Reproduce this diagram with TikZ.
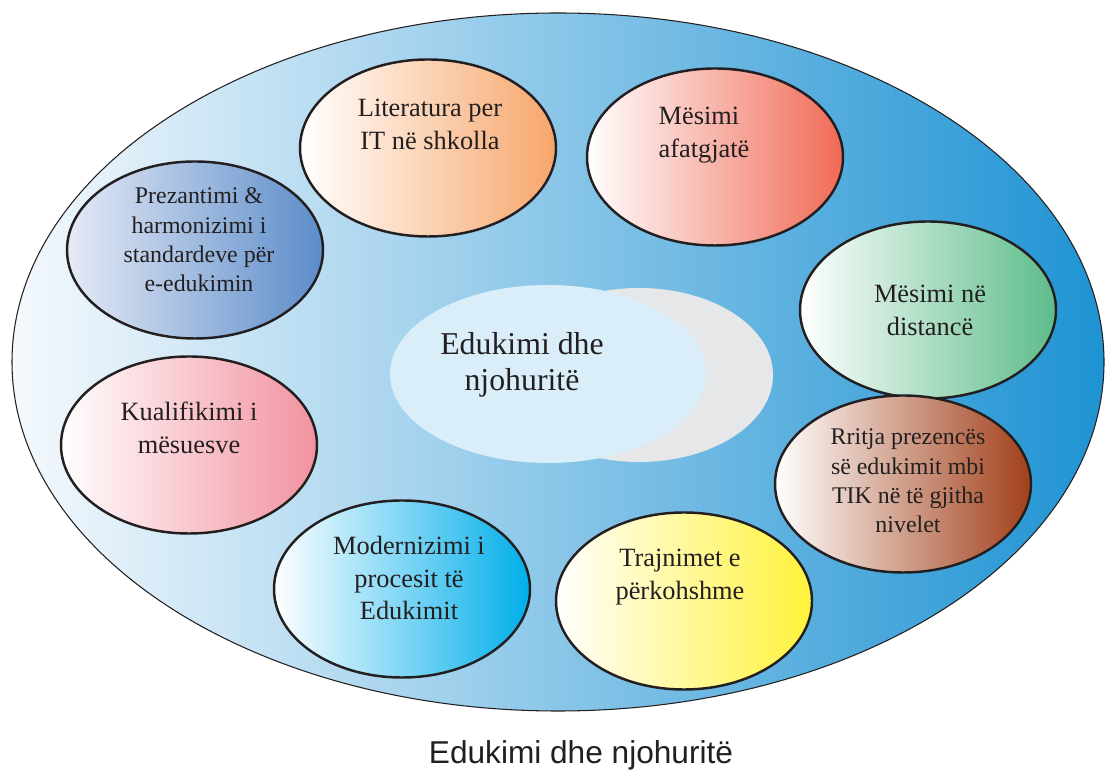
\documentclass[tikz,border=0pt]{standalone}
\usepackage{fontspec}
\setmainfont{Liberation Serif}
\setsansfont{Liberation Sans}
\usetikzlibrary{shapes.geometric}

\definecolor{outerL}{HTML}{F5F9FD}
\definecolor{outerM}{HTML}{A9CBEA}
\definecolor{outerR}{HTML}{1E93D3}
\definecolor{coreBlue}{HTML}{DAEEFA}
\definecolor{coreGray}{HTML}{E6E7E8}
\definecolor{inkDark}{HTML}{231F20}
\definecolor{litOrange}{HTML}{F7A66B}
\definecolor{afatSalmon}{HTML}{F06A56}
\definecolor{prezLight}{HTML}{E6EAF6}
\definecolor{prezBlue}{HTML}{5B8CC9}
\definecolor{distGreen}{HTML}{5DBC8A}
\definecolor{kualPink}{HTML}{F2919F}
\definecolor{rritBrown}{HTML}{A2401A}
\definecolor{modCyan}{HTML}{00AEEA}
\definecolor{trajYellow}{HTML}{FFF23A}

\begin{document}
\begin{tikzpicture}[
    bubble/.style={ellipse, draw=inkDark, line width=1.4pt, minimum width=5.12cm,
      minimum height=3.54cm, inner sep=0pt, left color=white},
    bubbletext/.style={align=center, text=inkDark, font=\fontsize{15}{18.7}\selectfont},
    smalltext/.style={bubbletext, font=\fontsize{13.6}{16.7}\selectfont}
  ]
    \useasboundingbox (0,0) rectangle (22.12,15.42);
    % Outer frame
    \node[ellipse, draw=inkDark, line width=0.6pt, minimum width=21.84cm, minimum height=13.96cm,
      left color=outerL, middle color=outerM, right color=outerR] (outer) at (11.16,8.18) {};
    % Core with its shadow
    \node[ellipse, fill=coreGray, minimum width=5.36cm, minimum height=3.48cm] (coreShadow) at (12.78,7.92) {};
    \node[ellipse, fill=coreBlue, minimum width=6.32cm, minimum height=3.56cm] (core) at (10.96,7.94) {};
    \node[align=center, text=inkDark, font=\fontsize{18.1}{20.4}\selectfont] (coreText) at (10.44,8.12) {Edukimi dhe\\njohuritë};
    % Ring of topics
    \node[bubble, right color=litOrange] (lit) at (8.56,12.46) {};
    \node[bubble, right color=afatSalmon] (afat) at (14.30,12.28) {};
    \node[bubble, left color=prezLight, right color=prezBlue] (prez) at (3.90,10.42) {};
    \node[bubble, right color=distGreen] (dist) at (18.56,9.22) {};
    \node[bubble, right color=kualPink] (kual) at (3.78,6.52) {};
    \node[bubble, right color=rritBrown] (rrit) at (18.06,5.74) {};
    \node[bubble, right color=modCyan] (mod) at (8.04,3.64) {};
    \node[bubble, right color=trajYellow] (traj) at (13.68,3.40) {};
    % Texts
    \node[bubbletext] (litText) at (8.60,12.94) {Literatura per\\IT në shkolla};
    \node[bubbletext, align=left] (afatText) at (14.08,12.72) {Mësimi\\afatgjatë};
    \node[smalltext] (prezText) at (3.98,10.62) {Prezantimi \&\\harmonizimi i\\standardeve për\\e-edukimin};
    \node[bubbletext] (distText) at (18.60,9.22) {Mësimi në\\distancë};
    \node[bubbletext] (kualText) at (3.78,6.86) {Kualifikimi i\\mësuesve};
    \node[smalltext] (rritText) at (18.16,5.80) {Rritja prezencës\\së edukimit mbi\\TIK në të gjitha\\nivelet};
    \node[bubbletext] (modText) at (8.18,3.86) {Modernizimi i\\procesit të\\Edukimit};
    \node[bubbletext] (trajText) at (13.60,3.88) {Trajnimet e\\përkohshme};
    % Caption
    \node[font=\sffamily\fontsize{18}{20}\selectfont, text=inkDark] (caption) at (11.62,0.32) {Edukimi dhe njohuritë};
\end{tikzpicture}
\end{document}
